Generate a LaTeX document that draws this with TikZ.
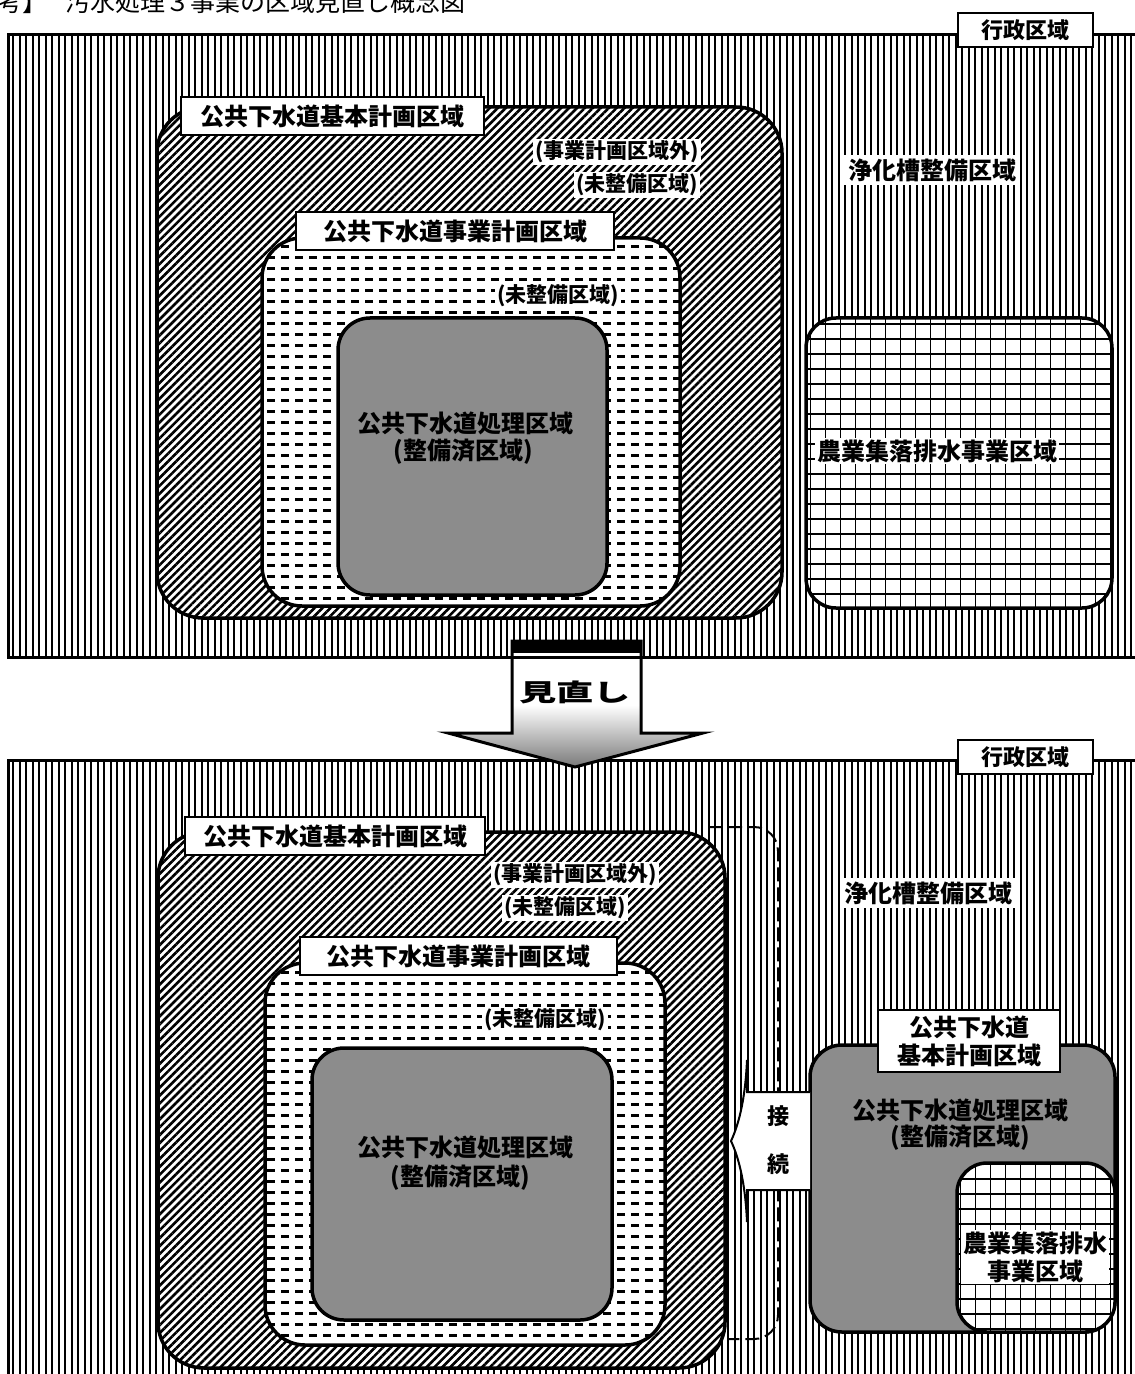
\documentclass[tikz,border=0pt]{standalone}
\usepackage{fontspec}
\newfontfamily\jp{Noto Sans CJK JP}
\usetikzlibrary{patterns,patterns.meta}

\pgfdeclarepatternformonly{hdash}{\pgfpoint{-0.5pt}{-0.5pt}}{\pgfpoint{7.5pt}{6pt}}{\pgfpoint{7pt}{5.5pt}}{%
  \pgfsetlinewidth{1.2pt}\pgfsetbuttcap
  \pgfpathmoveto{\pgfpoint{0.5pt}{2.75pt}}\pgfpathlineto{\pgfpoint{4.3pt}{2.75pt}}\pgfusepath{stroke}}

\pgfdeclarepatternformonly{gridp}{\pgfpoint{-1pt}{-1pt}}{\pgfpoint{8.5pt}{8.5pt}}{\pgfpoint{7.5pt}{7.5pt}}{%
  \pgfsetlinewidth{1pt}\pgfpathmoveto{\pgfpoint{0pt}{0pt}}\pgfpathlineto{\pgfpoint{7.5pt}{0pt}}\pgfusepath{stroke}%
  \pgfsetlinewidth{0.5pt}\pgfpathmoveto{\pgfpoint{0pt}{0pt}}\pgfpathlineto{\pgfpoint{0pt}{7.5pt}}\pgfusepath{stroke}}

\tikzset{
  gyosei/.style={draw, line width=1.5pt, preaction={fill=white}, pattern={Lines[angle=90,distance=3.25pt,line width=1pt]}},
  kihon/.style={draw, line width=1.75pt, rounded corners=23pt, preaction={fill=white}, pattern={Lines[angle=45,distance=2.8pt,line width=1.3pt]}},
  jigyo/.style={draw, line width=1.75pt, rounded corners=20pt, preaction={fill=white}, pattern=hdash},
  shori/.style={draw, line width=1.75pt, rounded corners=16pt, fill=black!45},
  nogyo/.style={draw, line width=1.75pt, rounded corners=15pt, preaction={fill=white}, pattern=gridp},
  lbl/.style={draw, line width=1pt, fill=white, inner sep=0pt, font=\jp\bfseries\fontsize{12pt}{14pt}\selectfont},
  htxt/.style={fill=white, inner sep=1pt, font=\jp\bfseries\fontsize{10.5pt}{12pt}\selectfont},
  wtxt/.style={fill=white, inner sep=1pt, font=\jp\bfseries\fontsize{12pt}{14pt}\selectfont},
  btxt/.style={inner sep=0pt, font=\jp\bfseries\fontsize{12pt}{14pt}\selectfont},
  brk/.style={line width=1pt, dash pattern=on 7pt off 3pt, rounded corners=12pt},
}

\begin{document}
\begin{tikzpicture}[x=0.5pt,y=-0.5pt]
\useasboundingbox (0,0) rectangle (1134,1374);
\fill[white] (0,0) rectangle (1134,1374);

% title (cut off at top, as in the reference)
\node[anchor=base west, inner sep=0pt, font=\jp\fontsize{12.5pt}{14pt}\selectfont] (ttl1) at (-53,12) {【参考】};
\node[anchor=base west, inner sep=0pt, font=\jp\fontsize{12.5pt}{14pt}\selectfont] (ttl2) at (65,12) {汚水処理３事業の区域見直し概念図};

% ===== top panel =====
\path[gyosei] (8,35) rectangle (1170,657);
\node[lbl, font=\jp\bfseries\fontsize{11pt}{13pt}\selectfont, minimum width=67.5pt, minimum height=17pt] (gy1) at (1025.5,30) {行政区域};

\draw[kihon] (157,107) rectangle (782,618);
\node[lbl, minimum width=151.5pt, minimum height=19pt] (k1) at (332.5,116) {公共下水道基本計画区域};
\node[htxt] (k1a) at (617,152) {(事業計画区域外)};
\node[htxt] (k1b) at (637,185) {(未整備区域)};

\draw[jigyo] (262,238) rectangle (680,606);
\node[lbl, minimum width=159pt, minimum height=19pt] (j1) at (455,231) {公共下水道事業計画区域};
\node[htxt] (j1a) at (558,296) {(未整備区域)};

\draw[shori] (338,318) rectangle (607,595);
\node[btxt] (s1a) at (465,423) {公共下水道処理区域};
\node[btxt] (s1b) at (463,452) {(整備済区域)};

\node[wtxt, inner sep=2pt] (jk1) at (932,170) {浄化槽整備区域};

\draw[nogyo] (806,318) rectangle (1112,608);
\node[wtxt] (n1) at (937,451) {農業集落排水事業区域};

% ===== bottom panel =====
\path[gyosei] (8,760) rectangle (1170,1420);
\node[lbl, font=\jp\bfseries\fontsize{11pt}{13pt}\selectfont, minimum width=67.5pt, minimum height=17pt] (gy2) at (1025.5,757) {行政区域};

\draw[kihon] (158,832) rectangle (725,1368);
\node[lbl, minimum width=150pt, minimum height=19pt] (k2) at (335,836) {公共下水道基本計画区域};
\node[htxt] (k2a) at (575,875) {(事業計画区域外)};
\node[htxt] (k2b) at (565,908) {(未整備区域)};

\draw[jigyo] (265,963) rectangle (665,1345);
\node[lbl, minimum width=158.5pt, minimum height=19pt] (j2) at (458.5,956) {公共下水道事業計画区域};
\node[htxt] (j2a) at (545,1020) {(未整備区域)};

\draw[shori] (312,1048) rectangle (612,1320);
\node[btxt] (s2a) at (465,1147) {公共下水道処理区域};
\node[btxt] (s2b) at (460,1178) {(整備済区域)};

% dashed bracket
\coordinate (bra) at (708,827);
\coordinate (brb) at (728,1339);
\draw[brk] (bra) -- (778,827) -- (778,1339) -- (brb);

\node[wtxt, inner sep=2pt] (jk2) at (928,893) {浄化槽整備区域};

% right group
\draw[shori] (810,1045) rectangle (1115,1332);
\draw[nogyo] (957,1163) rectangle (1115,1332);
\node[lbl, align=center, minimum width=91pt, minimum height=31pt] (k3) at (969,1041) {公共下水道\\基本計画区域};
\node[btxt] (s3a) at (960,1110) {公共下水道処理区域};
\node[btxt] (s3b) at (960,1138) {(整備済区域)};
\node[wtxt, align=center, inner sep=1pt] (n3) at (1035,1257) {農業集落排水\\事業区域};

% connection arrow
\draw[line width=1pt, fill=white] (810,1092) -- (747,1092) -- (747,1060)
  .. controls (745,1105) and (737,1128) .. (731,1141)
  .. controls (737,1154) and (745,1177) .. (747,1222) -- (747,1190) -- (810,1190);
\node[btxt, font=\jp\bfseries\fontsize{11pt}{13pt}\selectfont] (cn1) at (778,1116) {接};
\node[btxt, font=\jp\bfseries\fontsize{11pt}{13pt}\selectfont] (cn2) at (778,1164) {続};

% ===== review arrow =====
\begin{scope}
  \clip (512,641) -- (641,641) -- (641,733) -- (703,733) -- (575,767) -- (448,733) -- (512,733) -- cycle;
  \fill[white] (440,630) rectangle (710,770);
  \shade[top color=white, bottom color=black!55] (440,705) rectangle (710,770);
\end{scope}
\draw[line width=1.5pt, line join=miter] (512,641) -- (641,641) -- (641,733) -- (703,733) -- (575,767) -- (448,733) -- (512,733) -- cycle;
\fill[black] (512,640) rectangle (641,653);
\draw[line width=1.5pt] (512,657) -- (641,657);
\node[btxt] (mn) at (575,692) {\scalebox{1.55}[1]{見直し}};
\end{tikzpicture}
\end{document}
